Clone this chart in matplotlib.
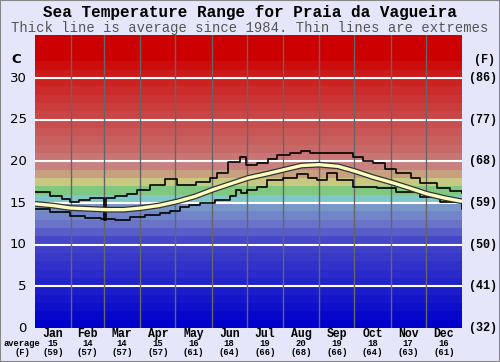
import matplotlib
matplotlib.use("Agg")
import matplotlib.pyplot as plt
import numpy as np

# --- data ---
months = ['Jan', 'Feb', 'Mar', 'Apr', 'May', 'Jun', 'Jul', 'Aug', 'Sep', 'Oct', 'Nov', 'Dec']
month_avg_c = [15, 14, 14, 15, 16, 18, 19, 20, 19, 18, 17, 16]
month_avg_f = [59, 57, 57, 57, 61, 64, 66, 68, 66, 64, 63, 61]
month_days = [31, 28, 31, 30, 31, 30, 31, 31, 30, 31, 30, 31]

avg_day = [0, 15, 30, 46, 61, 76, 91, 106, 122, 137, 152, 167, 182,
           198, 213, 228, 243, 259, 274, 289, 304, 320, 335, 350, 365]
avg_temp = [14.9, 14.7, 14.4, 14.3, 14.2, 14.2, 14.4, 14.7, 15.2, 15.8, 16.6, 17.3, 18.0,
            18.5, 19.0, 19.5, 19.6, 19.4, 18.8, 18.1, 17.5, 16.8, 16.1, 15.6, 15.2]

max_day = [0, 13, 23, 30, 38, 47, 58, 59, 61, 68, 79, 87, 98, 111, 121, 138, 150, 156,
           165, 175, 180, 190, 199, 207, 218, 227, 235, 258, 272, 280, 289, 299, 309,
           321, 329, 344, 355, 365]
max_temp = [16.3, 15.9, 15.5, 15.1, 15.4, 15.6, 15.6, 13.0, 15.6, 15.8, 16.1, 16.6, 17.2,
            17.9, 17.2, 17.5, 18.0, 18.6, 19.9, 20.5, 19.6, 19.8, 20.3, 20.8, 21.0, 21.2,
            21.0, 21.0, 20.5, 20.1, 19.8, 19.1, 18.6, 18.0, 17.4, 16.8, 16.5, 16.2]

min_day = [0, 13, 30, 43, 56, 68, 81, 94, 107, 115, 124, 132, 141, 154, 167, 172, 176,
           181, 190, 198, 212, 224, 233, 241, 250, 258, 272, 292, 309, 329, 346, 365]
min_temp = [14.3, 13.9, 13.4, 13.2, 13.1, 13.0, 13.3, 13.6, 13.8, 14.1, 14.5, 14.8, 15.0,
            15.4, 15.8, 16.6, 16.2, 16.6, 16.9, 17.8, 18.0, 18.5, 18.0, 17.8, 18.6, 17.8,
            16.9, 16.8, 16.3, 15.7, 15.1, 14.3]

c_ticks = [0, 5, 10, 15, 20, 25, 30]
f_ticks = ['(32)', '(41)', '(50)', '(59)', '(68)', '(77)', '(86)']

# band colours (style): anchor degree -> rgb
anchor_t = [0, 10, 12, 14, 15, 16, 17, 18, 19, 21, 30, 32, 36]
anchor_rgb = [(0, 0, 204), (70, 70, 200), (105, 115, 200), (120, 150, 200), (128, 200, 200),
              (128, 200, 128), (200, 200, 128), (200, 160, 128), (200, 128, 128),
              (200, 105, 105), (204, 25, 25), (204, 0, 0), (204, 0, 0)]

bg = '#e6e6fa'
fig = plt.figure(figsize=(5, 3.62), dpi=100, facecolor=bg)
ax = fig.add_axes([0.07, 0.0939, 0.854, 0.8094])
ax.set_xlim(0, 365)
ax.set_ylim(0, 35.16)

for t in range(36):
    r, g, b = [np.interp(t, anchor_t, [c[i] for c in anchor_rgb]) for i in range(3)]
    ax.axhspan(t, t + 1, color=(r / 255, g / 255, b / 255), lw=0, zorder=0)

for v in c_ticks[1:]:
    ax.axhline(v, color='white', lw=1.5, zorder=1)
for d in np.cumsum(month_days)[:-1]:
    ax.axvline(d, color='#666666', lw=1, zorder=1)

ax.plot(max_day, max_temp, color='black', lw=1.2, drawstyle='steps-post', zorder=3)
ax.plot(min_day, min_temp, color='black', lw=1.2, drawstyle='steps-post', zorder=3)
ax.plot(avg_day, avg_temp, color='#333333', lw=4.2, zorder=4, solid_capstyle='butt')
ax.plot(avg_day, avg_temp, color='#ffffc0', lw=2.4, zorder=5, solid_capstyle='butt')

ax.set_xticks([])
ax.set_yticks([])
for s in ax.spines.values():
    s.set_visible(False)

# left / right scale labels
for v, f in zip(c_ticks, f_ticks):
    ax.text(-7, v, str(v), ha='right', va='center', fontsize=9.5, color='black')
    ax.text(371, v, f, ha='left', va='center', fontsize=8.5, family='Liberation Mono',
            weight='bold', color='black')
ax.text(-16, 32.2, 'C', ha='center', va='center', fontsize=9.5, weight='bold')
ax.text(384, 32.2, '(F)', ha='center', va='center', fontsize=8.5, family='Liberation Mono',
        weight='bold')

# month labels
centers = np.cumsum(month_days) - np.array(month_days) / 2
for c, m, ac, af in zip(centers, months, month_avg_c, month_avg_f):
    ax.text(c, -0.72, m, ha='center', va='center', fontsize=8.3, family='Liberation Mono',
            weight='bold')
    ax.text(c, -1.8, str(ac), ha='center', va='center', fontsize=6.4,
            family='Liberation Mono', weight='bold')
    ax.text(c, -2.88, '(%d)' % af, ha='center', va='center', fontsize=6.4,
            family='Liberation Mono', weight='bold')
fig.text(0.044, 0.052, 'average', ha='center', va='center', fontsize=6.3,
         family='Liberation Mono', weight='bold')
fig.text(0.044, 0.027, '(F)', ha='center', va='center', fontsize=6.3,
         family='Liberation Mono', weight='bold')

fig.text(0.5, 0.966, 'Sea Temperature Range for Praia da Vagueira', ha='center',
         va='center', fontsize=11.5, family='Liberation Mono', weight='bold')
fig.text(0.5, 0.922, 'Thick line is average since 1984. Thin lines are extremes',
         ha='center', va='center', fontsize=10, family='Liberation Mono', color='#555555')

fig.patches.append(plt.Rectangle((0, 0), 1, 1, transform=fig.transFigure, fill=False,
                                 edgecolor='#888888', lw=1.5))
fig.savefig('out.png', dpi=100, facecolor=bg)
